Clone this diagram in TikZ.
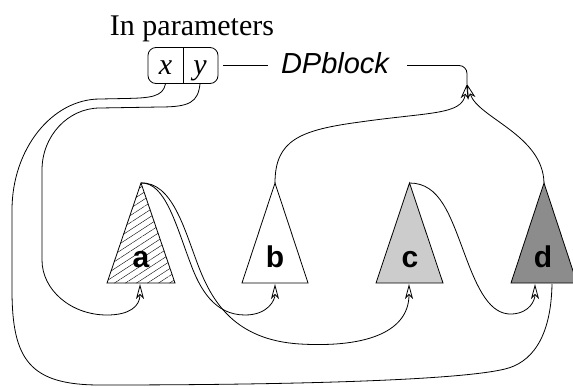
\documentclass[tikz,border=0pt]{standalone}
\usepackage{fontspec}
\setmainfont{Liberation Serif}
\setsansfont{Liberation Sans}
\usetikzlibrary{arrows.meta,patterns.meta}

\tikzset{
  wire/.style={line width=0.8pt},
  feed/.style={wire, -{Stealth[open, length=15pt, width=8pt, inset=4pt]}},
  tree/.style={line width=0.8pt},
  treelabel/.style={anchor=base, inner sep=0pt, font=\sffamily\bfseries\fontsize{30}{30}\selectfont},
  big/.style={anchor=base, inner sep=0pt, font=\fontsize{30}{30}\selectfont},
}

\begin{document}
\begin{tikzpicture}[x=1pt, y=-1pt]
\useasboundingbox (0,0) rectangle (573,386);

\node[big] (intitle) at (192,35) {In parameters};

\node[draw, line width=0.8pt, rounded corners=8pt, minimum width=70pt, minimum height=36pt, inner sep=0pt] (inp) at (183,65.5) {};
\draw[wire] (inp.north) -- (inp.south);
\node[big] (px) at (165.5,74) {\textit{x}};
\node[big] (py) at (200,74) {\textit{y}};

\node[anchor=base, inner sep=0pt, font=\sffamily\itshape\fontsize{29}{29}\selectfont] (dp) at (335,73) {DPblock};

\draw[tree, pattern={Lines[angle=33, distance=6pt, line width=0.4pt]}] (107,283) -- (141,183) -- (175,283) -- cycle;
\draw[tree] (242,283) -- (275,183) -- (308,283) -- cycle;
\draw[tree, fill=black!20] (376,283) -- (409.5,183) -- (443,283) -- cycle;
\draw[tree, fill=black!45] (511,283) -- (544,183) -- (577,283) -- cycle;

\node[treelabel] (a) at (141,267) {a};
\node[treelabel] (b) at (275,267) {b};
\node[treelabel] (c) at (410,267) {c};
\node[treelabel] (d) at (543,267) {d};

\coordinate (aTop) at (141,183);
\coordinate (bTop) at (275,183);
\coordinate (cTop) at (409.5,183);
\coordinate (dTop) at (544,183);
\coordinate (aIn) at (140,284);
\coordinate (bIn) at (275,284);
\coordinate (cIn) at (409,284);
\coordinate (dIn) at (535,284);
\coordinate (dOut) at (552,284);
\coordinate (join) at (467,84);

% block line
\draw[wire, shorten <=5pt, shorten >=13pt] (inp.east) -- (inp.east -| dp.west);
\draw[wire, rounded corners=8pt, shorten <=18pt] (inp.east -| dp.east) -| (join);

% outputs of b and d
\draw[feed] (bTop) .. controls (275,140) and (300,130) .. (360,122)
  .. controls (430,112) and (462,115) .. (join);
\draw[feed] (dTop) .. controls (543,135) and (478,118) .. (join);

% parameters
\draw[wire] (px |- inp.south) .. controls (163,97) and (150,98) .. (125,98.5) -- (100,99)
  .. controls (52,99) and (12,149) .. (12,210) -- (12,290)
  .. controls (12,360) and (30,385) .. (100,385)
  .. controls (300,385) and (460,380) .. (505,369)
  .. controls (530,363) and (551,340) .. (dOut);
\draw[feed] (py |- inp.south) .. controls (198,102) and (190,107) .. (160,107) -- (100,108)
  .. controls (68,108) and (42,136) .. (42,170) -- (42,260)
  .. controls (42,290) and (71,315) .. (107,315)
  .. controls (130,315) and (140,306) .. (aIn);

% a feeds b and c, c feeds d
\draw[feed] (aTop) .. controls (165,182) and (176,225) .. (190,262)
  .. controls (200,290) and (215,315) .. (245,315)
  .. controls (268,315) and (275,300) .. (bIn);
\draw[feed] (aTop) .. controls (172,182) and (184,228) .. (198,265)
  .. controls (212,302) and (235,340) .. (300,344)
  .. controls (370,348) and (409,330) .. (cIn);
\draw[feed] (cTop) .. controls (440,183) and (450,215) .. (465,255)
  .. controls (478,290) and (490,315) .. (512,314)
  .. controls (530,313) and (535,300) .. (dIn);
\end{tikzpicture}
\end{document}
